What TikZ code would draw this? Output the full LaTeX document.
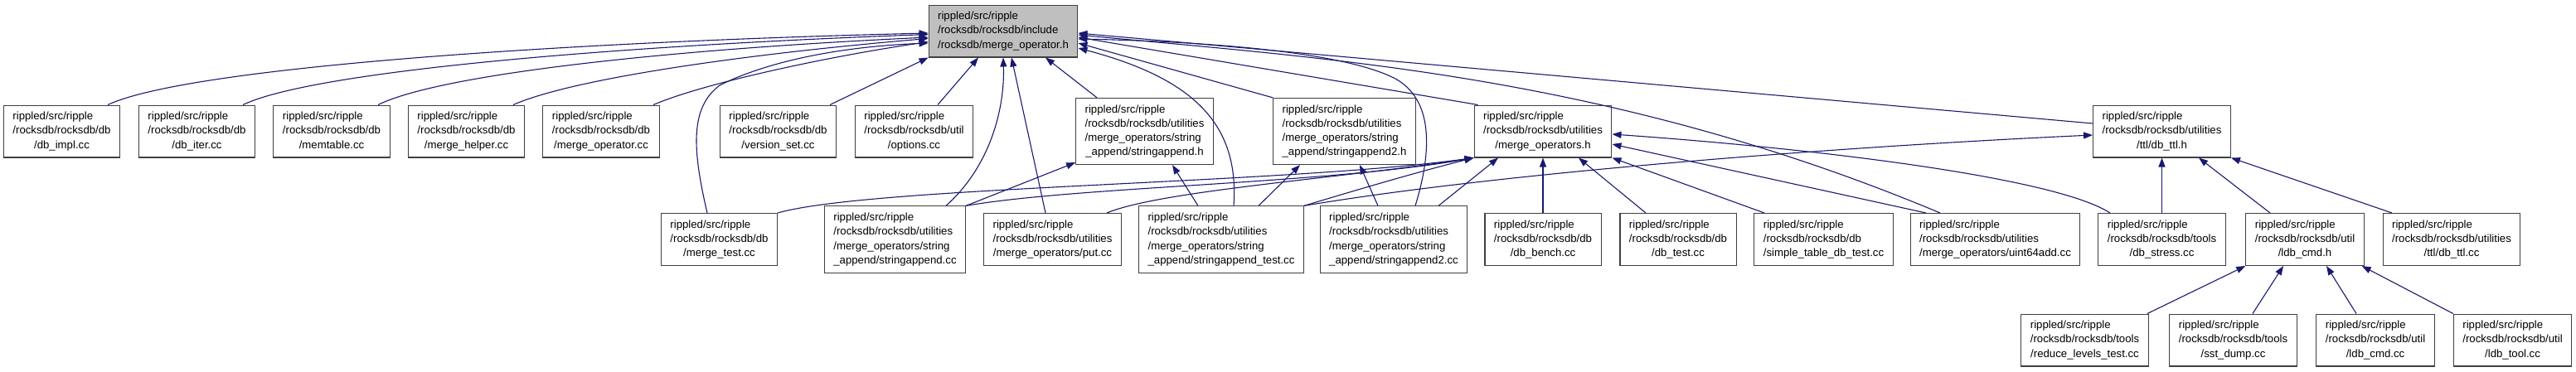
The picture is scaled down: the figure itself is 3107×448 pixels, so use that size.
\documentclass[tikz,border=0pt]{standalone}
\usepackage{fontspec}
\setmainfont{Liberation Sans}
\usetikzlibrary{arrows.meta}
\definecolor{EdgeBlue}{RGB}{25,25,112}
\definecolor{NodeGrey}{RGB}{191,191,191}
\definecolor{BorderGrey}{RGB}{64,64,64}
\newcommand{\flabel}[2]{\begin{tabular}{@{}l@{}}#1\\\multicolumn{1}{@{}c@{}}{#2}\end{tabular}}

\begin{document}
\begin{tikzpicture}[x=1pt, y=-1pt,
    filebox/.style={draw=BorderGrey, fill=white, line width=1.1pt, inner xsep=11pt, inner ysep=5.5pt,
      font=\fontsize{13.2}{17.3}\selectfont},
    mainbox/.style={filebox, fill=NodeGrey},
    incl/.style={draw=EdgeBlue, line width=1.1pt, -{Triangle[length=11pt, width=8pt]}}]
  \useasboundingbox (0,0) rectangle (3107,448);

  \node[mainbox] (mergeopH) at (1210,37.5) {\flabel{rippled/src/ripple\\/rocksdb/rocksdb/include}{/rocksdb/merge\_operator.h}};

  % first row
  \node[filebox] (dbimpl) at (74.5,158.5) {\flabel{rippled/src/ripple\\/rocksdb/rocksdb/db}{/db\_impl.cc}};
  \node[filebox] (dbiter) at (237.5,158.5) {\flabel{rippled/src/ripple\\/rocksdb/rocksdb/db}{/db\_iter.cc}};
  \node[filebox] (memtable) at (400,158.5) {\flabel{rippled/src/ripple\\/rocksdb/rocksdb/db}{/memtable.cc}};
  \node[filebox] (mergehelper) at (562.5,158.5) {\flabel{rippled/src/ripple\\/rocksdb/rocksdb/db}{/merge\_helper.cc}};
  \node[filebox] (mergeopcc) at (725,158.5) {\flabel{rippled/src/ripple\\/rocksdb/rocksdb/db}{/merge\_operator.cc}};
  \node[filebox] (versionset) at (938.5,158.5) {\flabel{rippled/src/ripple\\/rocksdb/rocksdb/db}{/version\_set.cc}};
  \node[filebox] (options) at (1102.5,158.5) {\flabel{rippled/src/ripple\\/rocksdb/rocksdb/util}{/options.cc}};
  \node[filebox] (saH) at (1380.5,158.5) {\flabel{rippled/src/ripple\\/rocksdb/rocksdb/utilities\\/merge\_operators/string}{\_append/stringappend.h}};
  \node[filebox] (sa2H) at (1621.5,158.5) {\flabel{rippled/src/ripple\\/rocksdb/rocksdb/utilities\\/merge\_operators/string}{\_append/stringappend2.h}};
  \node[filebox] (mopsH) at (1861,158.5) {\flabel{rippled/src/ripple\\/rocksdb/rocksdb/utilities}{/merge\_operators.h}};
  \node[filebox] (dbttlH) at (2607.5,158.5) {\flabel{rippled/src/ripple\\/rocksdb/rocksdb/utilities}{/ttl/db\_ttl.h}};

  % second row
  \node[filebox] (mergetest) at (867.5,289) {\flabel{rippled/src/ripple\\/rocksdb/rocksdb/db}{/merge\_test.cc}};
  \node[filebox] (saCC) at (1079.5,289) {\flabel{rippled/src/ripple\\/rocksdb/rocksdb/utilities\\/merge\_operators/string}{\_append/stringappend.cc}};
  \node[filebox] (putcc) at (1269.5,289) {\flabel{rippled/src/ripple\\/rocksdb/rocksdb/utilities}{/merge\_operators/put.cc}};
  \node[filebox] (satest) at (1473,289) {\flabel{rippled/src/ripple\\/rocksdb/rocksdb/utilities\\/merge\_operators/string}{\_append/stringappend\_test.cc}};
  \node[filebox] (sa2CC) at (1681,289) {\flabel{rippled/src/ripple\\/rocksdb/rocksdb/utilities\\/merge\_operators/string}{\_append/stringappend2.cc}};
  \node[filebox] (dbbench) at (1861,289) {\flabel{rippled/src/ripple\\/rocksdb/rocksdb/db}{/db\_bench.cc}};
  \node[filebox] (dbtest) at (2024,289) {\flabel{rippled/src/ripple\\/rocksdb/rocksdb/db}{/db\_test.cc}};
  \node[filebox] (simpletable) at (2199.5,289) {\flabel{rippled/src/ripple\\/rocksdb/rocksdb/db}{/simple\_table\_db\_test.cc}};
  \node[filebox] (uintadd) at (2406.5,289) {\flabel{rippled/src/ripple\\/rocksdb/rocksdb/utilities}{/merge\_operators/uint64add.cc}};
  \node[filebox] (dbstress) at (2607.5,289) {\flabel{rippled/src/ripple\\/rocksdb/rocksdb/tools}{/db\_stress.cc}};
  \node[filebox] (ldbcmdH) at (2780,289) {\flabel{rippled/src/ripple\\/rocksdb/rocksdb/util}{/ldb\_cmd.h}};
  \node[filebox] (dbttlCC) at (2957,289) {\flabel{rippled/src/ripple\\/rocksdb/rocksdb/utilities}{/ttl/db\_ttl.cc}};

  % third row
  \node[filebox] (reducelevels) at (2514.5,410.5) {\flabel{rippled/src/ripple\\/rocksdb/rocksdb/tools}{/reduce\_levels\_test.cc}};
  \node[filebox] (sstdump) at (2693.5,410.5) {\flabel{rippled/src/ripple\\/rocksdb/rocksdb/tools}{/sst\_dump.cc}};
  \node[filebox] (ldbcmdCC) at (2865,410.5) {\flabel{rippled/src/ripple\\/rocksdb/rocksdb/util}{/ldb\_cmd.cc}};
  \node[filebox] (ldbtool) at (3030.5,410.5) {\flabel{rippled/src/ripple\\/rocksdb/rocksdb/util}{/ldb\_tool.cc}};

  % into merge_operator.h
  \draw[incl] ([xshift=55.5pt]dbimpl.north) .. controls (230,80) and (700,50) .. ([yshift=-2.5pt]mergeopH.west);
  \draw[incl] ([xshift=55.5pt]dbiter.north) .. controls (380,85) and (750,55) .. ([yshift=-4pt]mergeopH.west);
  \draw[incl] ([xshift=56pt]memtable.north) .. controls (530,90) and (800,60) .. ([yshift=-7.5pt]mergeopH.west);
  \draw[incl] ([xshift=56.5pt]mergehelper.north) .. controls (690,95) and (900,65) .. ([yshift=-9pt]mergeopH.west);
  \draw[incl] ([xshift=63pt]mergeopcc.north) .. controls (850,100) and (1000,68) .. ([yshift=-13pt]mergeopH.west);
  \draw[incl] ([xshift=-14.5pt]mergetest.north) .. controls (835,180) and (832,130) .. (868,103)
    .. controls (930,72) and (1020,56) .. ([yshift=-14.5pt]mergeopH.west);
  \draw[incl] ([xshift=62.5pt]versionset.north) -- (mergeopH.south west);
  \draw[incl] ([xshift=28.5pt]options.north) -- ([xshift=-30pt]mergeopH.south);
  \draw[incl] ([xshift=61.5pt]saCC.north) .. controls (1195,200) and (1212,130) .. (mergeopH.south);
  \draw[incl] ([xshift=-8.5pt]putcc.north) -- ([xshift=10pt]mergeopH.south);
  \draw[incl] ([xshift=-57.5pt]saH.north) -- ([xshift=51pt]mergeopH.south);
  \draw[incl] ([xshift=15pt]satest.north) .. controls (1495,150) and (1440,95) .. ([yshift=-20.5pt]mergeopH.east);
  \draw[incl] (sa2H.north west) -- ([yshift=-14.5pt]mergeopH.east);
  \draw[incl] ([xshift=26pt]sa2CC.north) .. controls (1728,180) and (1728,120) .. (1683,95)
    .. controls (1620,62) and (1450,50) .. ([yshift=-9.5pt]mergeopH.east);
  \draw[incl] ([xshift=5pt]mopsH.north west) -- ([yshift=-7.5pt]mergeopH.east);
  \draw[incl] ([yshift=9.5pt]dbttlH.west) -- ([yshift=-2.5pt]mergeopH.east);
  \draw[incl] ([xshift=-66.5pt]uintadd.north) .. controls (1939,89) and (1599,71) .. ([yshift=-4.5pt]mergeopH.east);

  % into merge_operators.h
  \draw[incl] (mergetest.north east) .. controls (1050,225) and (1550,222) .. (mopsH.south west);
  \draw[incl] (saCC.north east) .. controls (1300,225) and (1600,222) .. (mopsH.south west);
  \draw[incl] ([xshift=65.5pt]putcc.north) .. controls (1400,230) and (1620,215) .. (mopsH.south west);
  \draw[incl] (satest.north east) .. controls (1650,225) and (1720,205) .. (mopsH.south west);
  \draw[incl] ([xshift=54pt]sa2CC.north) -- ([xshift=-54pt]mopsH.south);
  \draw[incl] (dbbench.north) -- (mopsH.south);
  \draw[incl] ([xshift=-39pt]dbtest.north) -- ([xshift=43pt]mopsH.south);
  \draw[incl] ([xshift=-71.5pt]simpletable.north) -- (mopsH.south east);
  \draw[incl] ([xshift=-83.5pt]uintadd.north) -- ([yshift=-15.5pt]mopsH.east);
  \draw[incl] ([xshift=-62.5pt]dbstress.north) .. controls (2480,215) and (2200,180) .. ([yshift=-3.5pt]mopsH.east);

  % string append headers
  \draw[incl] (saCC.north east) -- ([yshift=3pt]saH.south west);
  \draw[incl] ([xshift=-28pt]satest.north) -- ([xshift=33.5pt]saH.south);
  \draw[incl] ([xshift=45pt]satest.north) -- ([xshift=-53.5pt]sa2H.south);
  \draw[incl] ([xshift=-19pt]sa2CC.north) -- ([xshift=18.5pt]sa2H.south);

  % into db_ttl.h
  \draw[incl] (satest.north east) .. controls (1800,210) and (2200,178) .. ([yshift=-4.5pt]dbttlH.west);
  \draw[incl] (dbstress.north) -- (dbttlH.south);
  \draw[incl] ([xshift=-42pt]ldbcmdH.north) -- ([xshift=44.5pt]dbttlH.south);
  \draw[incl] ([xshift=-72pt]dbttlCC.north) -- (dbttlH.south east);

  % into ldb_cmd.h
  \draw[incl] ([xshift=75.5pt]reducelevels.north) -- (ldbcmdH.south west);
  \draw[incl] ([xshift=23.5pt]sstdump.north) -- ([xshift=-26pt]ldbcmdH.south);
  \draw[incl] ([xshift=-23pt]ldbcmdCC.north) -- ([xshift=26pt]ldbcmdH.south);
  \draw[incl] (ldbtool.north west) -- ([xshift=-3pt]ldbcmdH.south east);
\end{tikzpicture}
\end{document}
